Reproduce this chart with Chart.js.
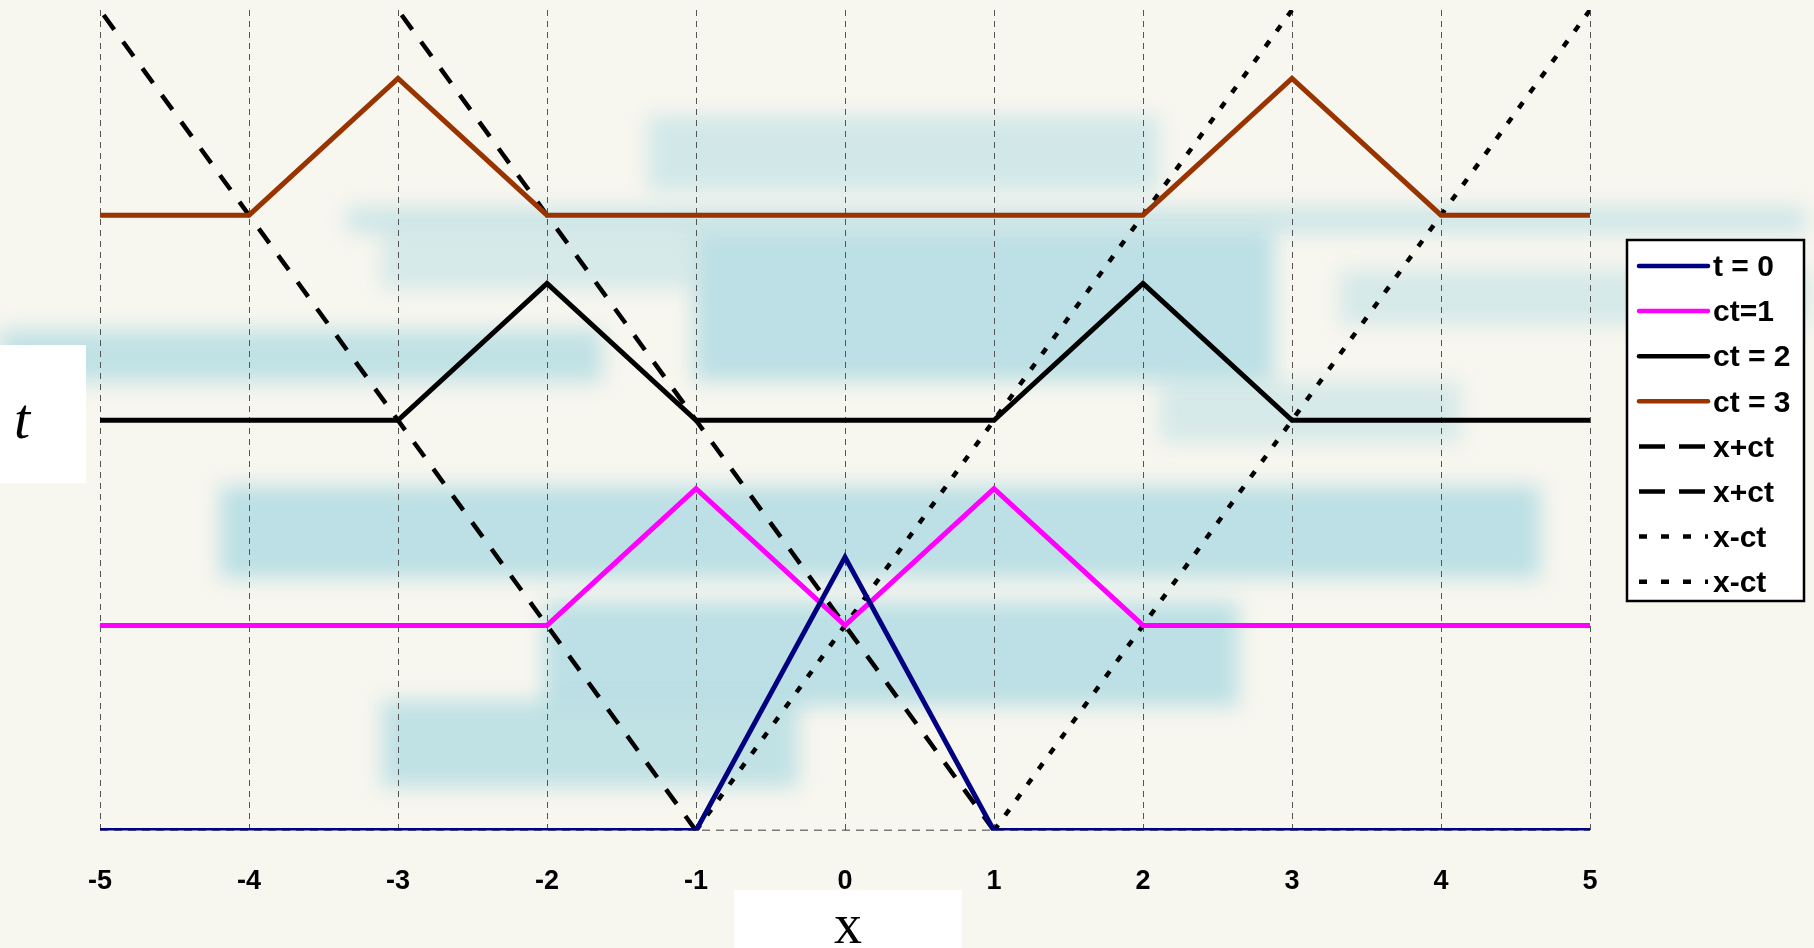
<!DOCTYPE html>
<html><head><meta charset="utf-8">
<script src="https://cdn.jsdelivr.net/npm/chart.js@4.4.1/dist/chart.umd.min.js"></script>
<style>html,body{margin:0;padding:0;background:#f7f6ef;overflow:hidden}#wrap{width:1814px;height:948px;position:relative}</style>
</head><body><div id="wrap"><canvas id="c" width="1814" height="948"></canvas></div>
<script>
// ---- data ----
const xKnots = [-5,-4,-3,-2,-1,0,1,2,3,4,5];
const xTickLabels = ['-5','-4','-3','-2','-1','0','1','2','3','4','5'];
const u_t0  = [0,0,0,0,0,1.333,0,0,0,0,0];
const u_ct1 = [1,1,1,1,1.667,1,1.667,1,1,1,1];
const u_ct2 = [2,2,2,2.667,2,2,2,2.667,2,2,2];
const u_ct3 = [3,3,3.667,3,3,3,3,3,3.667,3,3];
const charT = [0,4];
const xPlusCtA = [-1,-5];
const xPlusCtB = [1,-3];
const xMinusCtA = [-1,3];
const xMinusCtB = [1,5];
const baseX = [-5,5];
const baseY = [0,0];
const seriesLabels = ['t = 0','ct=1','ct = 2','ct = 3','x+ct','x+ct','x-ct','x-ct'];

const pts = (xs, ys) => xs.map((x,i)=>({x, y: ys[i]}));

const solid = (label, data, color) => ({label, data, borderColor: color, borderWidth: 5, pointRadius: 0, showLine: true, tension: 0, fill: false});
const dashed = (label, data, dash, w) => ({label, data, borderColor: '#000', borderWidth: w||4.5, borderDash: dash, pointRadius: 0, showLine: true, tension: 0, fill: false});

const datasets = [
  solid(seriesLabels[0], pts(xKnots, u_t0), '#000080'),
  solid(seriesLabels[1], pts(xKnots, u_ct1), '#ff00ff'),
  solid(seriesLabels[2], pts(xKnots, u_ct2), '#000000'),
  solid(seriesLabels[3], pts(xKnots, u_ct3), '#993300'),
  dashed(seriesLabels[4], pts(xPlusCtA, charT), [18,15]),
  dashed(seriesLabels[5], pts(xPlusCtB, charT), [18,15]),
  dashed(seriesLabels[6], pts(xMinusCtA, charT), [7,12]),
  dashed(seriesLabels[7], pts(xMinusCtB, charT), [7,12]),
  Object.assign(dashed('', pts(baseX, baseY), [8,6], 1.5), {legendHidden: true})
];

const bgPlugin = {
  id: 'bg',
  beforeDraw(chart) {
    const ctx = chart.ctx;
    ctx.save();
    ctx.fillStyle = '#f7f6ef';
    ctx.fillRect(0,0,chart.width,chart.height);
    ctx.filter = 'blur(10px)';
    const blobs = [
      [648,116,510,75,0.35],[347,208,1458,24,0.4],[694,231,580,150,0.55],[0,330,602,52,0.5],
      [382,231,312,58,0.3],[1340,270,470,55,0.3],[220,486,1320,92,0.55],[544,602,694,104,0.55],
      [382,700,416,87,0.5],[1160,382,300,60,0.3]
    ];
    blobs.forEach(b=>{ctx.fillStyle='rgba(140,206,220,'+b[4]+')';ctx.fillRect(b[0],b[1],b[2],b[3]);});
    ctx.restore();
  }
};

const decoPlugin = {
  id: 'deco',
  afterDraw(chart) {
    const ctx = chart.ctx;
    ctx.save();
    // axis labels
    ctx.fillStyle = '#ffffff';
    ctx.fillRect(0,345,86,138);
    ctx.fillRect(734,890,228,58);
    ctx.fillStyle = '#000';
    ctx.textAlign = 'center';
    ctx.textBaseline = 'alphabetic';
    ctx.font = 'italic 58px "Liberation Serif", "Times New Roman", serif';
    ctx.fillText('t', 22, 438);
    ctx.font = '56px "Liberation Serif", "Times New Roman", serif';
    ctx.fillText('x', 848, 943);
    // legend
    const lx = 1627, ly = 240, lw = 177, lh = 361;
    ctx.fillStyle = '#ffffff';
    ctx.fillRect(lx, ly, lw, lh);
    ctx.lineWidth = 2.5;
    ctx.strokeStyle = '#000';
    ctx.setLineDash([]);
    ctx.strokeRect(lx, ly, lw, lh);
    ctx.font = 'bold 30px "Liberation Sans", Arial, sans-serif';
    ctx.textAlign = 'left';
    ctx.textBaseline = 'middle';
    let i = 0;
    chart.data.datasets.forEach(ds => {
      if (ds.legendHidden) return;
      const y = 266 + i * 45.1;
      ctx.beginPath();
      ctx.strokeStyle = ds.borderColor;
      ctx.lineWidth = 4.5;
      const d = ds.borderDash ? (ds.borderDash[0] > 10 ? [26,14] : [8,14]) : [];
      ctx.setLineDash(d);
      ctx.lineCap = ds.borderDash ? 'butt' : 'round';
      ctx.moveTo(1639, y); ctx.lineTo(1708, y);
      ctx.stroke();
      ctx.fillStyle = '#000';
      ctx.fillText(ds.label, 1713, y + 2);
      i++;
    });
    ctx.restore();
  }
};

new Chart(document.getElementById('c'), {
  type: 'scatter',
  data: { datasets },
  options: {
    responsive: false,
    animation: false,
    layout: { padding: { left: 100, right: 224, top: 10, bottom: 15 } },
    plugins: { legend: { display: false }, tooltip: { enabled: false } },
    scales: {
      x: {
        type: 'linear', min: -5, max: 5,
        afterBuildTicks: (s) => { s.ticks = xKnots.map(v => ({value: v})); },
        ticks: {
          padding: 35, color: '#000',
          font: { family: '"Liberation Sans", Arial, sans-serif', size: 27, weight: 'bold' },
          callback: (v) => xTickLabels[xKnots.indexOf(v)]
        },
        grid: { color: '#555', lineWidth: 1, drawTicks: false },
        border: { display: false, dash: [6,5] }
      },
      y: { type: 'linear', min: 0, max: 4, display: false }
    }
  },
  plugins: [bgPlugin, decoPlugin]
});
</script></body></html>
